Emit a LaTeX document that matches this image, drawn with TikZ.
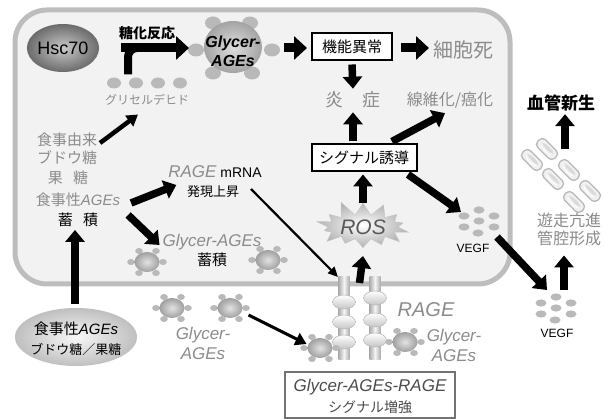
\documentclass[tikz,border=0pt]{standalone}
\usepackage{fontspec}
\setmainfont{Liberation Sans}
\newfontfamily\jp{Noto Sans CJK JP}
\usetikzlibrary{arrows.meta,shapes.geometric,shapes.symbols,calc}
\definecolor{txtgray}{gray}{0.55}
\definecolor{cellfill}{gray}{0.95}
\definecolor{cellline}{gray}{0.74}
\definecolor{boxgray}{gray}{0.45}
\newcommand\fsz[1]{\fontsize{#1}{#1}\selectfont}

\begin{document}
\begin{tikzpicture}[x=1pt,y=-1pt,
  every node/.style={inner sep=0pt,outer sep=0pt},
  bigarr/.style={line width=9pt,-{Triangle[width=23pt,length=13pt]}},
  midarr/.style={line width=7.5pt,-{Triangle[width=19pt,length=12pt]}},
  slimarr/.style={line width=4.5pt,-{Triangle[width=13pt,length=11pt]}},
  thinarr/.style={line width=2.2pt,-{Triangle[width=9pt,length=10pt]}},
  jg/.style={text=txtgray,font=\jp\fsz{#1}},
  jb/.style={text=black,font=\jp\fsz{#1}},
  framebox/.style={draw=black,line width=2pt,fill=white,minimum height=27pt},
  rec/.style={minimum width=11pt,minimum height=83pt,left color=gray!65,right color=gray!65,middle color=gray!8},
  disc/.style={ellipse,minimum width=23pt,minimum height=14pt,top color=white,bottom color=gray!45,draw=gray!55,line width=0.6pt},
  pics/ageball/.style={code={
    \foreach \dx/\dy in {-8/-11,9/-11,-16/0,16/0,-8/11,9/11}
      \fill[gray!55] (\dx,\dy) ellipse [x radius=3.8,y radius=3];
    \node[ellipse,minimum width=25pt,minimum height=20pt,inner color=gray!22,outer color=gray!75] (-c) at (0,0) {};
  }},
  pics/bigball/.style={code={
    \foreach \dx/\dy in {-20/-24,17/-24,-37/3,39/3,-20/26,19/26}
      \fill[gray!55] (\dx,\dy) ellipse [x radius=8,y radius=6.5];
    \node[ellipse,minimum width=58pt,minimum height=52pt,inner color=gray!25,outer color=gray!72] (-c) at (0,0) {};
  }},
  pics/vegfdots/.style={code={
    \foreach \dx/\dy in {1/-11,-14/-5,16/-5,1/0,-14/6,16/6,0/12}
      \fill[gray!55] (\dx,\dy) ellipse [x radius=5.5,y radius=3.6];
  }},
  pics/vcell/.style={code={
    \begin{scope}[rotate=-45]
      \draw[gray!55,line width=1.3pt,fill=gray!12,rounded corners=4.5pt] (-12,-5.5) rectangle (12,5.5);
      \fill[gray!30] (-8,-1) .. controls (-4,-3.5) and (5,-3.5) .. (8,-1) .. controls (5,1) and (-4,1) .. (-8,-1);
      \draw[white,line width=1pt] (-7,1.5) .. controls (-2,3.5) and (3,3.5) .. (7,1.5);
    \end{scope}
  }},
]
\useasboundingbox (0,0) rectangle (605,419);
\fill[white] (0,0) rectangle (605,419);

% the cell
\draw[cellline,line width=5pt,fill=cellfill,rounded corners=32pt] (15,10) rectangle (510,284);

% glycation at the top
\node[ellipse,minimum width=54pt,minimum height=48pt,inner color=gray!42,outer color=black!58,font=\fsz{18}] (hsc) at (63,48) {Hsc70};
\pic (glyA) at (233,47) {bigball};
\node[font=\bfseries\itshape\fontsize{16}{19}\selectfont,align=center] at (233,51) {Glycer-\\AGEs};
\node[font=\jp\bfseries\fsz{14}] (toka) at (147,33) {糖化反応};
\foreach \x in {114,136,158,180}
  \fill[gray!55] (\x,83) ellipse [x radius=7,y radius=5.5];
\node[minimum width=78pt,minimum height=11pt] (gdots) at (147,83) {};
\node[jg=12] (glyald) at (147,100) {グリセルデヒド};

\draw[line width=8pt,rounded corners=9pt] ($(gdots.north)+(-19,-3)$) |- ($(gdots.north |- hsc.east)+(10,0)$);
\draw[bigarr] ($(hsc.east)+(22,0)$) -- ($(glyA-c.west |- hsc.east)+(-15,0)$);

\node[framebox,jb=15,minimum width=80pt] (kinou) at (352,47) {機能異常};
\node[jg=20] (saibo) at (463,50) {細胞死};
\draw[bigarr] ($(glyA-c.east |- hsc.east)+(22,0)$) -- ($(kinou.west |- hsc.east)+(-5,0)$);
\draw[bigarr] ($(kinou.east |- hsc.east)+(9,0)$) -- ($(saibo.west |- hsc.east)+(-4,0)$);

\node[jg=18] (ensho) at (353,100) {炎\hspace{1.05em}症};
\node[jg=16] (seni) at (450,100) {線維化/癌化};
\node[font=\jp\bfseries\fsz{17}] (kekkan) at (561,103) {血管新生};
\draw[midarr] ($(kinou.south)+(0,4)$) -- ($(ensho.north)+(0,-3)$);

% signalling
\node[framebox,jb=15,minimum width=105pt] (sig) at (364,158) {シグナル誘導};
\draw[midarr] ($(sig.north -| ensho.north)+(0,-3)$) -- ($(ensho.south)+(0,4)$);
\draw[midarr] ($(sig.north)+(28,-3)$) -- ($(seni.south)+(-5,5)$);

\node[starburst,starburst points=14,starburst point height=16pt,random starburst=11,minimum width=102pt,minimum height=56pt,inner color=white,outer color=gray!60,draw=gray!45,line width=0.5pt] (ros) at (363,227) {};
\node[font=\itshape\fsz{21},text=black!65] at (ros.center) {ROS};
\draw[midarr] ($(ros.center)+(0,-24)$) -- ($(sig.south -| ros.center)+(0,3)$);

% VEGF
\pic at (478,221) {vegfdots};
\node (vegf1) at (478,221) {};
\node[font=\fsz{12}] (vl1) at (473,248) {VEGF};
\pic at (555,308) {vegfdots};
\node (vegf2) at (555,308) {};
\node[font=\fsz{12}] (vl2) at (557,333) {VEGF};
\draw[midarr] ($(sig.south)+(44,3)$) -- ($(vegf1)+(-17,-9)$);
\draw[midarr] ($(vegf1)+(19,16)$) -- ($(vegf2)+(-8,-18)$);

% endothelial cells
\foreach \cx/\cy in {532/160,547/149,553/179,569/170,574/202,590/191}
  \pic at (\cx,\cy) {vcell};
\coordinate (cells) at (565,149);
\node[text=txtgray,font=\jp\fontsize{16}{18}\selectfont,align=center] (yuso) at (569,229) {遊走亢進\\管腔形成};
\draw[midarr] (cells) -- ($(kekkan.south)+(4,3)$);
\draw[midarr] ($(vegf2)+(9,-18)$) -- ($(yuso.south)+(-5,10)$);

% dietary sources
\node[jg=15] (yurai) at (67,140) {食事由来};
\node[jg=15] (budo) at (67,158) {ブドウ糖};
\node[jg=15] (kato) at (68,178) {果\hspace{0.7em}糖};
\node[text=txtgray,font=\fsz{15}] (shokuage) at (78,200) {{\jp 食事性}\textit{AGEs}};
\node[jb=15] (chiku) at (78,220) {蓄\hspace{0.7em}積};
\draw[slimarr] ($(yurai.east)+(3,3)$) -- ($(glyald.south)+(-9,9)$);

\node[font=\fsz{14}] (mrna) at (215,172) {{\color{txtgray}\itshape\fsz{17}RAGE} mRNA};
\node[jb=13] (hatsu) at (213,192) {発現上昇};
\node[text=txtgray,font=\itshape\fsz{17}] (glyin) at (212,242) {Glycer-AGEs};
\node[jb=15] (chiku2) at (212,260) {蓄積};
\pic (bin1) at (147,262) {ageball};
\pic (bin2) at (268,260) {ageball};
\draw[midarr] ($(shokuage.east)+(11,3)$) -- ($(mrna.west)+(8,13)$);
\draw[midarr] ($(shokuage.east)+(8,15)$) -- ($(glyin.west)+(-3,3)$);

% RAGE receptors
\node[rec] (r1) at (344,318.5) {};
\node[rec] (r2) at (375,318.5) {};
\foreach \dy in {-16.5,3.5,23.5} \node[disc] at ($(r1)+(0,\dy)$) {};
\foreach \dy in {-20.5,1.5,21.5} \node[disc] at ($(r2)+(0,\dy)$) {};
\draw[midarr] ($(r1.north)!0.5!(r2.north)+(0,6)$) -- ($(ros.center)+(0,29)$);
\draw[thinarr] ($(hatsu.east)+(12,-3)$) -- ($(r1.north)+(-6,0)$);
\node[text=txtgray,font=\itshape\fsz{20}] (ragelbl) at (426,310) {RAGE};
\node[text=txtgray,font=\itshape\fontsize{17}{20}\selectfont,align=center] (glyr) at (454,345) {Glycer-\\AGEs};

% Glycer-AGEs outside the cell
\pic (bo1) at (172,308) {ageball};
\pic (bo2) at (230,308) {ageball};
\node[text=txtgray,font=\itshape\fontsize{17}{20}\selectfont,align=center] (glyout) at (203,343) {Glycer-\\AGEs};
\pic (br1) at (320,348) {ageball};
\pic (br2) at (405,342) {ageball};
\draw[slimarr,line width=3pt] ($(bo2-c.east)+(6,7)$) -- ($(br1-c.west)+(-1,-4)$);

% enhanced signalling box
\node[draw=boxgray,line width=1.8pt,fill=white,minimum width=170pt,minimum height=46pt] (sigbox) at (370,395) {};
\node[text=black!70,font=\itshape\fsz{17}] (sbt1) at (370,387) {Glycer-AGEs-RAGE};
\node[text=black!70,font=\jp\fsz{14}] (sbt2) at (370,407) {シグナル増強};

% dietary AGEs
\node[ellipse,minimum width=122pt,minimum height=58pt,inner color=gray!6,outer color=gray!50] (dietell) at (76,337) {};
\node[font=\fsz{15}] (et1) at (76,329) {{\jp 食事性}\textit{AGEs}};
\node[jb=13] (et2) at (76,349) {ブドウ糖／果糖};
\draw[midarr,line width=8pt] ($(dietell.north)+(-1,-4)$) -- ($(chiku.south)+(-3,3)$);
\end{tikzpicture}
\end{document}
